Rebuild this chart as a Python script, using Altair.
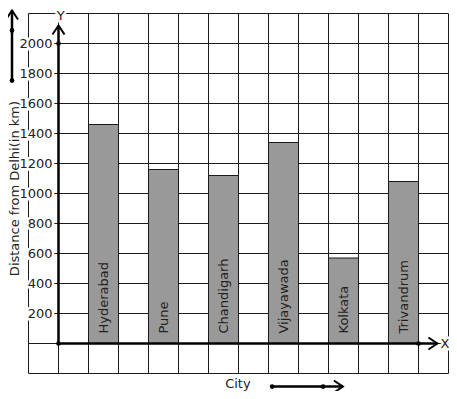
import altair as alt
import pandas as pd

# ---- data ----
cities = ["Hyderabad", "Pune", "Chandigarh", "Vijayawada", "Kolkata", "Trivandrum"]
distances = [1460, 1160, 1120, 1340, 570, 1080]
slots = [2, 4, 6, 8, 10, 12]          # grid column where each bar starts
y_ticks = [200, 400, 600, 800, 1000, 1200, 1400, 1600, 1800, 2000]
grid_cols = list(range(0, 15))
grid_rows = list(range(-200, 2201, 200))

y_title = "Distance from Delhi(in km)"
x_title = "City"

FONT = "DejaVu Sans"
INK = "#1a1a1a"

XS = alt.Scale(domain=[0, 14], nice=False, zero=False)
YS = alt.Scale(domain=[-200, 2200], nice=False, zero=False)


def X(f):
    return alt.X(f, type="quantitative", scale=XS, axis=None)


def Y(f):
    return alt.Y(f, type="quantitative", scale=YS, axis=None)


bars_df = pd.DataFrame({
    "city": cities,
    "d": distances,
    "x0": slots,
    "x1": [s + 1 for s in slots],
    "xc": [s + 0.5 for s in slots],
    "zero": [0] * len(cities),
})

vgrid = alt.Chart(pd.DataFrame({"x": grid_cols})).mark_rule(
    color=INK, strokeWidth=1
).encode(x=X("x"), y=alt.value(0), y2=alt.value(360))

hgrid = alt.Chart(pd.DataFrame({"y": grid_rows})).mark_rule(
    color=INK, strokeWidth=1
).encode(y=Y("y"), x=alt.value(0), x2=alt.value(420))

bars = alt.Chart(bars_df).mark_rect(
    fill="#999999", stroke=INK, strokeWidth=1
).encode(x=X("x0"), x2="x1", y=Y("d"), y2="zero")

bar_labels = alt.Chart(bars_df).mark_text(
    angle=270, align="left", baseline="middle", dx=10,
    fontSize=13, font=FONT, color="#222"
).encode(x=X("xc"), y=Y("zero"), text="city:N")

# tick labels and axis letters (with a white backing that hides the grid)
lab_df = pd.DataFrame({
    "x": [1] * len(y_ticks),
    "y": y_ticks,
    "t": [str(v) for v in y_ticks],
})
tick_halo = alt.Chart(lab_df).mark_text(
    align="right", baseline="middle", dx=-6, fontSize=13, font=FONT,
    stroke="white", strokeWidth=5, fill="white"
).encode(x=X("x"), y=Y("y"), text="t:N")
tick_text = alt.Chart(lab_df).mark_text(
    align="right", baseline="middle", dx=-6, fontSize=13, font=FONT, color="#222"
).encode(x=X("x"), y=Y("y"), text="t:N")

letters_df = pd.DataFrame({
    "x": [13.88, 1.07],
    "y": [0, 2183],
    "t": ["X", "Y"],
})
letter_halo = alt.Chart(letters_df).mark_text(
    align="center", baseline="middle", fontSize=13, font=FONT,
    stroke="white", strokeWidth=5, fill="white"
).encode(x=X("x"), y=Y("y"), text="t:N")
letter_text = alt.Chart(letters_df).mark_text(
    align="center", baseline="middle", fontSize=13, font=FONT, color="#222"
).encode(x=X("x"), y=Y("y"), text="t:N")

titles_df = pd.DataFrame({
    "x": [-0.45, 6.98],
    "y": [1033, -273],
    "t": [y_title, x_title],
    "a": [270, 0],
})
titles = alt.Chart(titles_df).mark_text(
    align="center", baseline="middle", fontSize=13, font=FONT, color="#222"
).encode(x=X("x"), y=Y("y"), text="t:N", angle=alt.Angle("a:Q", scale=None))

# axis lines and decorative arrows
segs_df = pd.DataFrame({
    "x": [1, 1, -0.55, 8.12],
    "x2": [1, 13.63, -0.55, 10.48],
    "y": [0, 0, 1753, -287],
    "y2": [2120, 0, 2220, -287],
})
segs = alt.Chart(segs_df).mark_rule(color="black", strokeWidth=2.5).encode(
    x=X("x"), x2="x2", y=Y("y"), y2="y2"
)

up_df = pd.DataFrame({"x": [1, -0.55], "y": [2120, 2220]})
up_heads = alt.Chart(up_df).mark_point(
    shape="M-0.67,1L0,0L0.67,1", filled=False, color="black",
    strokeWidth=2, size=324, opacity=1
).encode(x=X("x"), y=Y("y"))

right_df = pd.DataFrame({"x": [13.63, 10.48], "y": [0, -287]})
right_heads = alt.Chart(right_df).mark_point(
    shape="M-1,-0.67L0,0L-1,0.67", filled=False, color="black",
    strokeWidth=2, size=324, opacity=1
).encode(x=X("x"), y=Y("y"))

dots_df = pd.DataFrame({
    "x": [1, 1, 13, -0.55, -0.55, 8.12, 9.82],
    "y": [0, 2000, 0, 2087, 1753, -287, -287],
})
dots = alt.Chart(dots_df).mark_point(
    filled=True, color="black", size=22, opacity=1
).encode(x=X("x"), y=Y("y"))

chart = alt.layer(
    hgrid, vgrid, bars, bar_labels,
    tick_halo, tick_text, letter_halo, letter_text, titles,
    segs, up_heads, right_heads, dots,
).properties(
    width=420, height=360,
    padding={"left": 20.5, "top": 5.5, "right": 0.5, "bottom": 17.5},
    autosize=alt.AutoSizeParams(type="none"),
).configure_view(stroke=None)

chart.save("out.html", embed_options={"renderer": "svg", "actions": False})
